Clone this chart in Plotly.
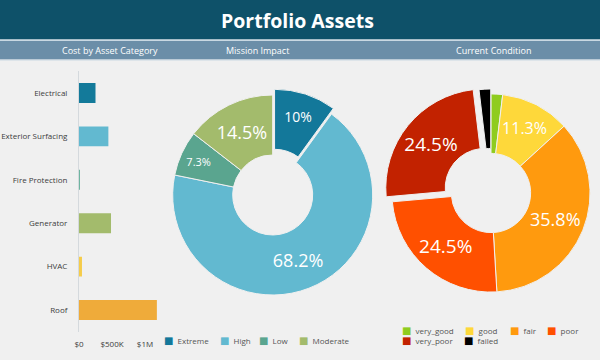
import plotly.graph_objects as go

W, H = 600, 360
def px(x):
    return x / W
def py(y):
    return 1 - y / H

# ---------------- data ----------------
categories = ["Electrical", "Exterior Surfacing", "Fire Protection", "Generator", "HVAC", "Roof"]
cost = [250000, 445000, 15000, 485000, 45000, 1180000]
cost_colors = ["#137a9a", "#62b9d0", "#6fb5a0", "#a3bb6c", "#f5cc4a", "#efab3a"]
cost_tick_vals = [0, 500000, 1000000]
cost_tick_text = ["$0", "$500K", "$1M"]

impact_labels = ["Extreme", "High", "Low", "Moderate"]
impact_pct = [10, 68.2, 7.3, 14.5]
impact_colors = ["#13789a", "#62b9d0", "#5aa58f", "#a3bb6c"]

condition_labels = ["very_good", "good", "fair", "poor", "very_poor", "failed"]
condition_counts = [1, 6, 19, 13, 13, 1]
condition_colors = ["#8fcc1e", "#fed83a", "#ff9a0e", "#ff5000", "#c22200", "#000000"]

FONT = "Open Sans"
BG = "#f0f0f0"

fig = go.Figure()

fig.add_trace(go.Bar(
    x=cost, y=categories, orientation="h",
    marker=dict(color=cost_colors, line=dict(width=0)),
    width=0.46, showlegend=False, hoverinfo="x+y",
))

fig.add_trace(go.Pie(
    labels=impact_labels, values=impact_pct, sort=False,
    direction="clockwise", rotation=0, hole=0.4,
    pull=[0.06, 0, 0, 0],
    marker=dict(colors=impact_colors, line=dict(color="#f0f0f0", width=1)),
    textinfo="percent", textposition="inside", insidetextorientation="horizontal",
    textfont=dict(family=FONT, color="white", size=[14, 18, 11, 18]),
    domain=dict(x=[px(166.7), px(378.7)], y=[py(301), py(89)]),
    showlegend=False,
))

fig.add_trace(go.Pie(
    labels=condition_labels, values=condition_counts, sort=False,
    direction="clockwise", rotation=0, hole=0.4,
    pull=[0, 0, 0, 0, 0.08, 0.05],
    marker=dict(colors=condition_colors, line=dict(color="#f0f0f0", width=1)),
    textinfo="percent",
    textposition=["none", "inside", "inside", "inside", "inside", "none"],
    insidetextorientation="horizontal",
    textfont=dict(family=FONT, color="white", size=[12, 16, 18, 19, 19, 12]),
    domain=dict(x=[px(384), px(598)], y=[py(300), py(86)]),
    showlegend=False,
))

shapes = [
    dict(type="rect", xref="paper", yref="paper", x0=0, x1=1, y0=py(39.5), y1=1,
         fillcolor="#0e5169", line=dict(width=0), layer="below"),
    dict(type="rect", xref="paper", yref="paper", x0=0, x1=1, y0=py(41), y1=py(39.5),
         fillcolor="#c9d8e2", line=dict(width=0), layer="below"),
    dict(type="rect", xref="paper", yref="paper", x0=0, x1=1, y0=py(59.5), y1=py(41),
         fillcolor="#6b8ea8", line=dict(width=0), layer="below"),
    dict(type="rect", xref="paper", yref="paper", x0=0, x1=1, y0=py(60.5), y1=py(59.5),
         fillcolor="#c9d8e2", line=dict(width=0), layer="below"),
]

annotations = [
    dict(text="<b>Portfolio Assets</b>", x=px(297), y=py(20.5), xref="paper", yref="paper",
         showarrow=False, font=dict(family=FONT, size=19.5, color="white"),
         xanchor="center", yanchor="middle"),
]
for label, xc in [("Cost by Asset Category", 110), ("Mission Impact", 257), ("Current Condition", 493)]:
    annotations.append(dict(text=label, x=px(xc), y=py(50.5), xref="paper", yref="paper",
                            showarrow=False, font=dict(family=FONT, size=9, color="white"),
                            xanchor="center", yanchor="middle"))

def legend_item(label, color, x, y):
    return dict(
        text=(f'<span style="color:{color};font-size:10px;font-family:DejaVu Sans">■</span>'
              f'&nbsp;&nbsp;{label}'),
        x=px(x), y=py(y), xref="paper", yref="paper", showarrow=False,
        xanchor="left", yanchor="middle", font=dict(family=FONT, size=8, color="#555555"),
    )

impact_legend_x = [162, 218, 257, 297]
for lab, col, xx in zip(impact_labels, impact_colors, impact_legend_x):
    annotations.append(legend_item(lab, col, xx, 340))

cond_legend_pos = [(400, 330.5), (463, 330.5), (507.5, 330.5), (545, 330.5), (400, 340), (462, 340)]
for lab, col, (xx, yy) in zip(condition_labels, condition_colors, cond_legend_pos):
    annotations.append(legend_item(lab, col, xx, yy))

fig.update_layout(
    width=W, height=H,
    margin=dict(l=0, r=0, t=0, b=0),
    paper_bgcolor=BG, plot_bgcolor=BG,
    font=dict(family=FONT, size=8, color="#3c3c3c"),
    shapes=shapes, annotations=annotations,
    xaxis=dict(domain=[px(79), px(165)], range=[0, 1.303e6],
               tickvals=cost_tick_vals, ticktext=cost_tick_text,
               showgrid=False, zeroline=False, showline=False, automargin=False,
               ticks="", ticklabelstandoff=6, tickfont=dict(size=8, color="#3c3c3c"),
               fixedrange=True),
    yaxis=dict(domain=[py(331.75), py(71.25)], autorange="reversed", automargin=False,
               showgrid=False, zeroline=False, showline=True, linecolor="#d4d9dd", linewidth=1,
               ticks="", ticklabelstandoff=9, tickfont=dict(size=8, color="#3c3c3c"),
               fixedrange=True),
)

fig.write_html("out.html", config={"displayModeBar": False},
               post_script="document.body.style.margin='0';document.body.style.overflow='hidden';")
